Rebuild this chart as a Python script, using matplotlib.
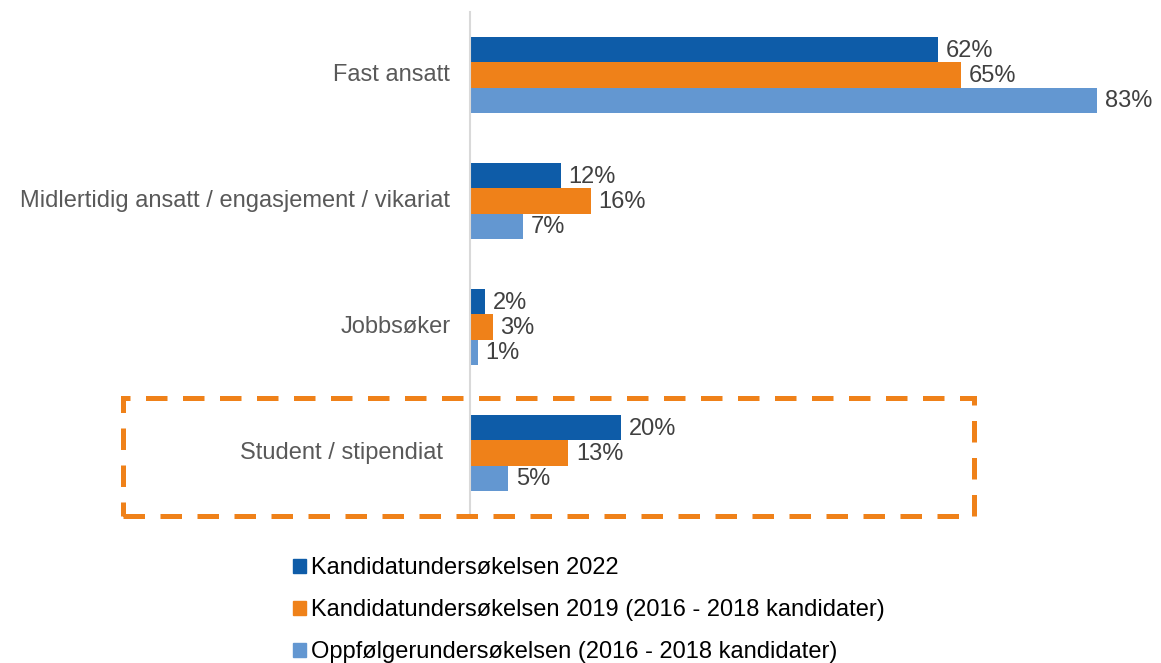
import matplotlib.pyplot as plt
from matplotlib.patches import Rectangle, Patch

plt.rcParams['font.family'] = ['Liberation Sans', 'DejaVu Sans']

categories = ['Fast ansatt', 'Midlertidig ansatt / engasjement / vikariat',
              'Jobbsøker', 'Student / stipendiat']
series_names = ['Kandidatundersøkelsen 2022',
                'Kandidatundersøkelsen 2019 (2016 - 2018 kandidater)',
                'Oppfølgerundersøkelsen (2016 - 2018 kandidater)']
k2022 = [62, 12, 2, 20]
k2019 = [65, 16, 3, 13]
oppf = [83, 7, 1, 5]
colors = ['#0E5CA8', '#EF8119', '#6397D1']

W, H = 1161, 663
fig = plt.figure(figsize=(W / 100, H / 100), dpi=100)

# axes in pixel terms: x from 470 px, 7.55 px per %
x0, ppp = 470, 7.55
xmax = 90
ax = fig.add_axes([x0 / W, 1 - 516 / H, xmax * ppp / W, (516 - 12) / H])
ax.set_xlim(0, xmax)
ax.set_ylim(3.5, -0.5)

bh = 0.2
for k, (vals, c) in enumerate(zip([k2022, k2019, oppf], colors)):
    ys = [i + (k - 1) * bh for i in range(len(categories))]
    ax.barh(ys, vals, height=bh, color=c, label=series_names[k])
    for y, v in zip(ys, vals):
        ax.text(v + 1.05, y + 0.01, '%d%%' % v, va='center', ha='left',
                fontsize=17, color='#404040')

label_pad = [2.6, 2.6, 2.6, 3.6]
for i, cat in enumerate(categories):
    ax.text(-label_pad[i], i, cat, ha='right', va='center', fontsize=17, color='#595959')

for s in ['top', 'right', 'bottom']:
    ax.spines[s].set_visible(False)
ax.spines['left'].set_color('#D9D9D9')
ax.spines['left'].set_linewidth(1.5)
ax.set_xticks([])
ax.set_yticks([])

# dashed highlight box around the student group
rect = Rectangle((123 / W, 1 - 515.5 / H), (973.5 - 123) / W, (515.5 - 397.5) / H,
                 transform=fig.transFigure, fill=False, edgecolor='#EF8119',
                 linewidth=3.6, linestyle=(0, (4.3, 3.1)))
fig.patches.append(rect)

handles = [Patch(color=c) for c in colors]
fig.legend(handles, series_names, loc='upper left',
           bbox_to_anchor=(272 / W, 1 - 536 / H), frameon=False,
           fontsize=17, handlelength=0.55, handleheight=0.55,
           handletextpad=0.2, labelspacing=0.85, labelcolor='#000000')

fig.savefig('out.png', dpi=100)
